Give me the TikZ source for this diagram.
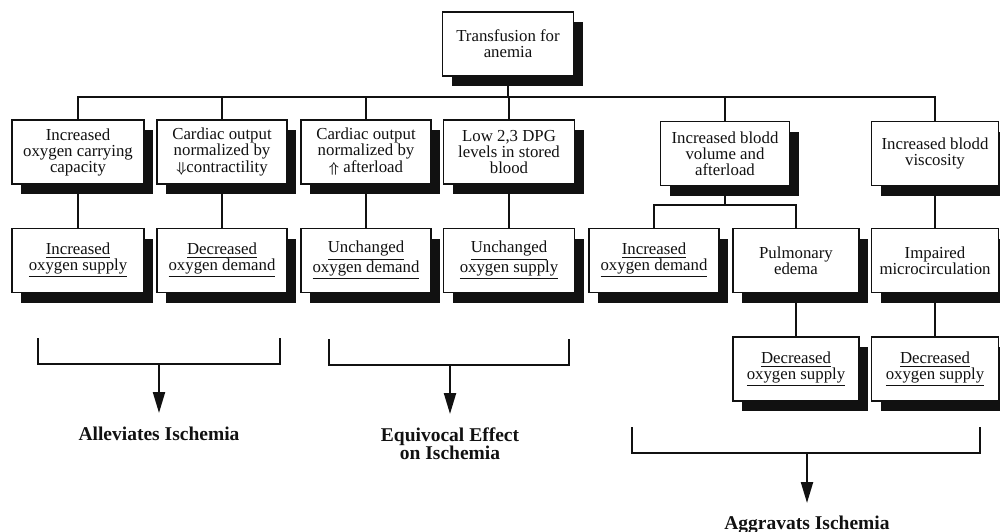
\documentclass[tikz,border=0pt]{standalone}
\usepackage{fontspec}
\setmainfont{Liberation Serif}
\usepackage{amsmath}
\usepackage{bm}
\usepackage{tikz}
\usetikzlibrary{arrows.meta,positioning,shadows}
\usepackage{xcolor}
\definecolor{ink}{HTML}{111111}

% double arrows set on the text line
\newcommand{\dnarr}{{\fontsize{14}{14}\selectfont$\boldsymbol{\Downarrow}$}}
\newcommand{\uparr}{{\fontsize{14}{14}\selectfont$\boldsymbol{\Uparrow}$}}

\tikzset{
  box/.style={draw=ink, line width=1.1pt, fill=white, align=center,
    minimum width=130pt, minimum height=64pt, inner sep=3pt, text=ink,
    font=\fontsize{16.8}{16}\selectfont,
    drop shadow={shadow xshift=9pt, shadow yshift=-10pt, fill=ink, opacity=1}},
  link/.style={draw=ink, line width=1.3pt},
  bracket/.style={draw=ink, line width=2.2pt},
  arrow/.style={draw=ink, line width=2.2pt, -{Triangle[length=21pt,width=12pt]}},
  result/.style={font=\fontsize{19.5}{18}\selectfont\bfseries, align=center,
    inner sep=2pt, text=ink}
}

\begin{document}
\begin{tikzpicture}[x=1pt,y=-1pt]
\useasboundingbox (0,0) rectangle (1000,532);

% root and the bus below it
\node[box, minimum width=131pt] (top) at (508,44) {Transfusion for\\anemia};
\coordinate (bus) at (0,97);
\coordinate (split) at (0,205);

% first row
\foreach \n/\x/\y/\w/\txt in {
  r1a/78/152/132/{Increased\\oxygen carrying\\capacity},
  r1b/222/152/130/{Cardiac output\\normalized by\\[1pt]\dnarr contractility},
  r1c/366/152/130/{Cardiac output\\normalized by\\[1pt]\uparr\ afterload},
  r1d/509/152/131/{Low 2,3 DPG\\levels in stored\\blood},
  r1e/725/153.5/129/{Increased blodd\\volume and\\afterload},
  r1f/935/153.5/127/{Increased blodd\\viscosity}}
{
  \node[box, minimum width=\w pt] (\n) at (\x,\y) {\txt};
}

% second row
\foreach \n/\x/\w/\txt in {
  r2a/78/132/{\underline{Increased}\\\underline{oxygen supply}},
  r2b/222/130/{\underline{Decreased}\\\underline{oxygen demand}},
  r2c/366/130/{\underline{Unchanged}\\\underline{oxygen demand}},
  r2d/509/131/{\underline{Unchanged}\\\underline{oxygen supply}},
  r2e/654/130/{\underline{Increased}\\\underline{oxygen demand}},
  r2f/796/126/{Pulmonary\\edema},
  r2g/935/127/{Impaired\\microcirculation}}
{
  \node[box, minimum width=\w pt] (\n) at (\x,260.5) {\txt};
}

% third row
\node[box, minimum width=126pt] (r3f) at (796,369) {\underline{Decreased}\\\underline{oxygen supply}};
\node[box, minimum width=127pt] (r3g) at (935,369) {\underline{Decreased}\\\underline{oxygen supply}};

% tree connectors
\draw[link] (top) -- (top |- bus);
\draw[link] (r1a.north) |- (r1f.north |- bus) -- (r1f.north);
\foreach \n in {r1b,r1c,r1d,r1e}
  \draw[link] (\n.north) -- (\n.north |- bus);
\foreach \a/\b in {r1a/r2a,r1b/r2b,r1c/r2c,r1d/r2d,r1f/r2g,r2f/r3f,r2g/r3g}
  \draw[link] (\a) -- (\b);
\draw[link] (r1e) -- (r1e |- split);
\draw[link] (r2e.north) |- (r2f.north |- split) -- (r2f.north);

% brackets and outcomes
\coordinate (b1l) at (38,338);  \coordinate (b1r) at (280,338);
\coordinate (b1m) at (159,364); \coordinate (b1tip) at (159,413);
\coordinate (b2l) at (329,339); \coordinate (b2r) at (569,339);
\coordinate (b2m) at (450,365); \coordinate (b2tip) at (450,414);
\coordinate (b3l) at (632,427); \coordinate (b3r) at (980,427);
\coordinate (b3m) at (807,453); \coordinate (b3tip) at (807,503);

\foreach \b in {b1,b2,b3}{
  \draw[bracket] (\b l) |- (\b m) -| (\b r);
  \draw[arrow] (\b m) -- (\b tip);
}

\node[result, below=12pt of b1tip] (alleviate) {Alleviates Ischemia};
\node[result, below=12pt of b2tip] (equivocal) {Equivocal Effect\\on Ischemia};
\node[result, below=11pt of b3tip] (aggravate) {Aggravats Ischemia};
\end{tikzpicture}
\end{document}
